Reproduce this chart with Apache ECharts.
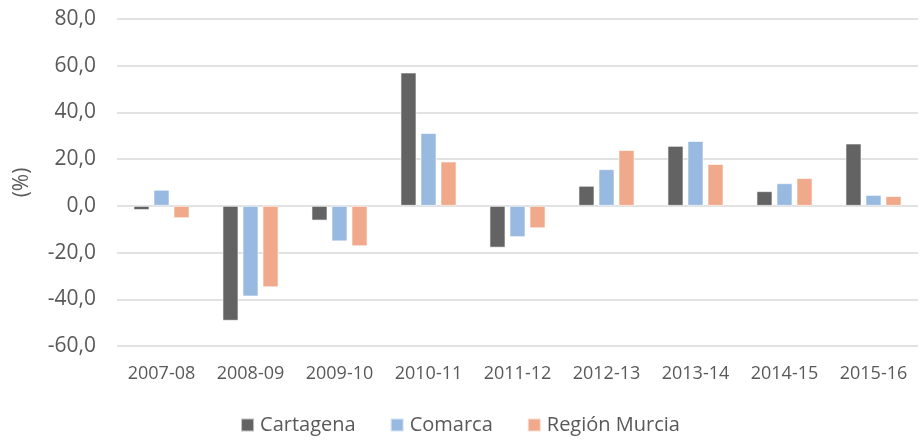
<!DOCTYPE html>
<html><head><meta charset="utf-8">
<script src="https://cdn.jsdelivr.net/npm/echarts@6/dist/echarts.min.js"></script>
<style>html,body{margin:0;padding:0;background:#fff}#c{width:920px;height:441px}</style>
</head><body><div id="c"></div>
<script>
const categories = ['2007-08','2008-09','2009-10','2010-11','2011-12','2012-13','2013-14','2014-15','2015-16'];
const cartagena = [-1.8, -49.2, -6.3, 57.1, -17.9, 8.6, 25.7, 6.3, 26.7];
const comarca = [6.9, -38.8, -15.2, 31.2, -13.4, 15.7, 27.8, 9.7, 4.7];
const murcia = [-5.3, -34.9, -17.3, 19.0, -9.6, 23.9, 17.9, 11.9, 4.2];
const seriesNames = ['Cartagena','Comarca','Región Murcia'];
const colors = ['#636363','#98B9E0','#F0A98A'];
const font = 'Open Sans';
const chart = echarts.init(document.getElementById('c'), null, {renderer:'canvas'});
const mk = (name, data, color) => ({
  name, type:'bar', data,
  barGap:'25%', barCategoryGap:'37%',
  itemStyle:{color, borderColor:'rgba(255,255,255,0.6)', borderWidth:1},
});
chart.setOption({
  animation:false,
  textStyle:{fontFamily:font},
  color:colors,
  grid:{left:117, right:2, top:19, bottom:95, containLabel:false},
  legend:{
    bottom:1, left:'center', itemWidth:13, itemHeight:13, itemGap:34, icon:'rect',
    textStyle:{fontFamily:font, fontSize:20, color:'#595959', padding:[0,0,0,1]},
    data:seriesNames
  },
  xAxis:{
    type:'category', data:categories,
    axisLine:{show:false}, axisTick:{show:false},
    axisLabel:{fontFamily:font, fontSize:18, color:'#595959', margin:19}
  },
  yAxis:{
    type:'value', min:-60, max:80, interval:20,
    name:'(%)', nameLocation:'middle', nameGap:84, nameRotate:90,
    nameTextStyle:{fontFamily:font, fontSize:21, color:'#595959'},
    axisLine:{show:false}, axisTick:{show:false},
    splitLine:{lineStyle:{color:'#D9D9D9', width:1.5}},
    axisLabel:{fontFamily:font, fontSize:21, color:'#595959', margin:21,
      formatter:v=>v.toFixed(1).replace('.',',')}
  },
  series:[mk(seriesNames[0], cartagena, colors[0]), mk(seriesNames[1], comarca, colors[1]), mk(seriesNames[2], murcia, colors[2])]
});
</script></body></html>
